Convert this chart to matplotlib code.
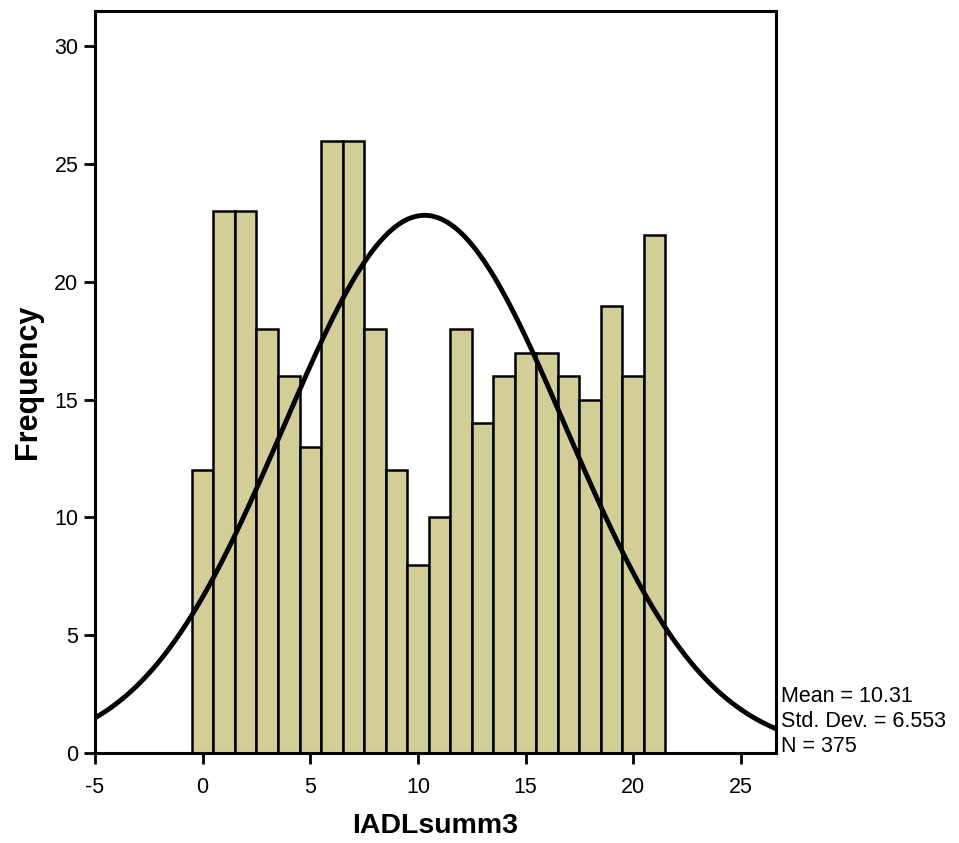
import numpy as np
import matplotlib
matplotlib.use("Agg")
import matplotlib.pyplot as plt

plt.rcParams["font.family"] = ["Liberation Sans", "DejaVu Sans"]
plt.rcParams["axes.unicode_minus"] = False

# Histogram counts per integer score (0..21)
scores = list(range(0, 22))
counts = [12, 23, 23, 18, 16, 13, 26, 26, 18, 12, 8, 10,
          18, 14, 16, 17, 17, 16, 15, 19, 16, 22]

MEAN = 10.31
SD = 6.553
N = 375

xticks = [-5, 0, 5, 10, 15, 20, 25]
yticks = [0, 5, 10, 15, 20, 25, 30]

fig = plt.figure(figsize=(9.59, 8.43), dpi=100)
ax = fig.add_axes([0.0991, 0.1068, 0.7100, 0.8800])

ax.bar(scores, counts, width=1.0, color="#D3CE97",
       edgecolor="black", linewidth=1.8, zorder=2)

# Normal curve scaled to counts (bin width = 1)
xs = np.linspace(-5, 26.7, 400)
ys = N / (SD * np.sqrt(2 * np.pi)) * np.exp(-0.5 * ((xs - MEAN) / SD) ** 2)
ax.plot(xs, ys, color="black", linewidth=3.5, zorder=3)

ax.set_xlim(-5, 26.63)
ax.set_ylim(0, 31.5)
ax.set_xticks(xticks)
ax.set_yticks(yticks)
ax.tick_params(direction="out", length=8, width=2, labelsize=15.5)
ax.tick_params(axis="x", pad=9)
ax.tick_params(axis="y", pad=4)
for sp in ax.spines.values():
    sp.set_linewidth(2.2)

ax.set_xlabel("IADLsumm3", fontsize=20.5, fontweight="bold", labelpad=11)
ax.set_ylabel("Frequency", fontsize=22, fontweight="bold", labelpad=8)

fig.text(0.814, 0.1015,
         f"Mean = {MEAN:.2f}\nStd. Dev. = {SD:.3f}\nN = {N}",
         fontsize=15.5, ha="left", va="bottom", linespacing=1.25)

fig.savefig("out.png", dpi=100)
